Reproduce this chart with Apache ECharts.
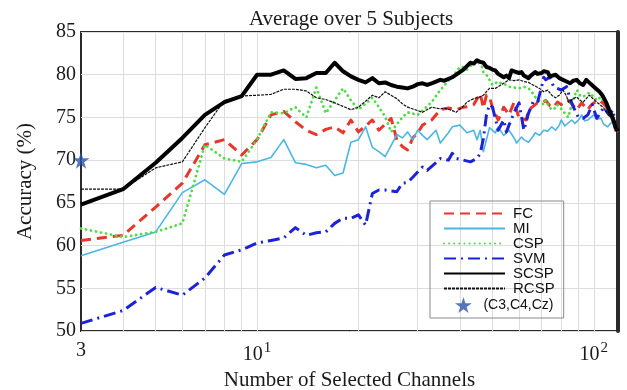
<!DOCTYPE html>
<html>
<head>
<meta charset="utf-8">
<script src="https://cdn.jsdelivr.net/npm/echarts@6/dist/echarts.min.js"></script>
<style>
  html, body { margin: 0; padding: 0; background: #fff; }
  #chart { width: 627px; height: 390px; }
</style>
</head>
<body>
<div id="chart"></div>
<script>
// Classification accuracy (%) against number of selected channels, averaged over 5 subjects
const fc = [[3,60.6],[4,61.2],[5,64.5],[6,67.3],[7,71.8],[8,72.4],[9,70.6],[10,72.4],[11,75.3],[12,75.7],[13,74.5],[14,73.5],[15,73.0],[16,73.6],[17,73.9],[18,73.2],[19,74.7],[20,73.3],[21,74.0],[22,74.7],[23,73.5],[24,74.2],[25,74.9],[26,72.4],[27,71.6],[28,71.2],[29,72.6],[30,73.2],[31,74.1],[33,74.7],[35,75.9],[37,76.1],[39,75.9],[41,76.2],[43,76.3],[44,76.5],[46,77.8],[47,76.1],[48,77.6],[49,77.4],[50,76.2],[52,74.7],[53,75.4],[54,76.2],[56,75.3],[58,76.8],[60,74.9],[62,74.8],[63,74.7],[64,75.9],[66,76.3],[68,76.7],[70,76.6],[72,77.0],[74,76.4],[76,76.2],[78,76.8],[80,76.5],[81,76.7],[84,77.0],[86,76.6],[89,75.9],[92,76.7],[94,76.3],[96,75.9],[98,76.4],[100,76.7],[102,76.8],[104,77.0],[107,76.6],[109,76.2],[111,75.6],[113,75.0],[116,73.5],[118,73.4]];

const mi = [[3,58.8],[4,60.4],[5,61.6],[6,66.2],[7,67.7],[8,66.0],[9,69.6],[10,69.8],[11,70.3],[12,72.4],[13,69.7],[14,69.5],[15,69.1],[16,69.4],[17,68.2],[18,68.5],[19,72.1],[20,72.4],[21,73.9],[22,71.5],[23,71.0],[24,70.4],[25,71.7],[26,73.0],[27,72.6],[28,73.3],[29,72.4],[30,73.5],[31,72.9],[32,72.4],[34,73.5],[35,72.0],[37,73.2],[38,73.9],[40,74.1],[42,73.2],[44,73.5],[45,72.4],[46,73.5],[47,71.0],[49,73.8],[51,73.2],[52,73.9],[54,72.9],[56,73.5],[58,72.6],[59,72.0],[61,72.7],[62,72.4],[64,72.1],[66,72.8],[67,73.2],[69,72.9],[71,73.5],[73,73.4],[75,73.9],[77,73.5],[79,74.1],[80,74.7],[82,74.0],[83,73.9],[86,74.7],[88,74.3],[91,74.9],[92,75.3],[94,74.6],[96,74.7],[98,75.0],[100,75.3],[102,74.8],[105,74.9],[107,74.2],[110,73.9],[112,74.3],[114,74.5],[116,73.6],[118,73.3]];

const csp = [[3,62.0],[4,61.0],[5,61.6],[6,62.6],[7,71.8],[8,70.2],[9,69.8],[10,72.4],[11,75.6],[12,75.5],[13,76.2],[14,75.0],[15,78.5],[16,75.5],[17,77.0],[18,78.4],[19,77.0],[20,75.9],[21,76.6],[22,77.3],[23,76.2],[24,75.1],[25,73.3],[26,74.2],[27,75.0],[28,75.6],[30,75.3],[31,75.8],[33,76.8],[35,78.2],[37,79.3],[38,79.7],[40,80.9],[41,80.9],[42,80.6],[44,81.4],[45,81.2],[46,81.7],[47,80.3],[48,80.0],[50,78.8],[52,79.2],[53,79.0],[55,78.8],[56,78.6],[58,78.5],[60,78.4],[62,78.6],[64,78.4],[66,77.8],[67,77.4],[69,76.9],[71,76.5],[72,77.0],[74,76.1],[76,75.9],[78,76.5],[80,76.0],[82,75.5],[84,75.0],[86,76.6],[89,78.2],[91,77.6],[93,77.4],[95,77.7],[97,77.9],[100,77.4],[102,77.0],[105,77.4],[108,76.8],[110,76.5],[112,75.8],[114,75.0],[116,73.8],[118,73.5]];

const svm = [[3,50.9],[4,52.4],[5,55.1],[6,54.2],[7,56.2],[8,58.9],[9,59.5],[10,60.3],[11,60.6],[12,60.9],[13,62.1],[14,61.2],[15,61.5],[16,61.6],[17,62.6],[18,63.2],[19,63.2],[20,63.6],[21,62.4],[22,66.1],[23,66.5],[24,66.5],[26,66.3],[27,67.3],[28,67.4],[29,68.0],[31,69.2],[32,68.8],[34,69.7],[35,70.2],[37,70.0],[38,70.8],[39,70.2],[41,70.0],[43,69.8],[45,70.2],[46,70.8],[47,72.5],[48,75.3],[49,76.5],[50,76.2],[51,74.9],[52,73.5],[54,74.7],[55,73.3],[56,74.1],[58,75.6],[60,76.7],[62,73.5],[64,75.5],[66,76.8],[68,76.7],[70,78.6],[71,79.7],[72,79.4],[74,79.7],[76,78.6],[78,78.4],[80,78.2],[83,78.6],[85,77.2],[87,76.2],[90,75.0],[93,74.9],[96,75.3],[99,76.5],[102,74.9],[105,75.6],[107,76.2],[111,75.3],[114,75.9],[116,73.9],[118,73.5]];

const scsp = [[3,64.8],[4,66.6],[5,69.7],[6,72.6],[7,75.3],[8,76.8],[9,77.5],[10,80.0],[11,80.0],[12,80.5],[13,79.5],[14,79.6],[15,80.2],[16,80.2],[17,81.4],[18,80.4],[19,79.8],[20,79.4],[21,79.1],[22,79.6],[23,79.0],[24,79.1],[25,78.8],[26,78.6],[27,78.5],[28,78.4],[29,78.6],[30,78.9],[31,79.0],[32,78.8],[33,79.0],[34,79.2],[35,79.4],[36,79.3],[38,79.7],[40,80.3],[41,80.6],[42,81.0],[43,81.4],[44,81.3],[45,81.7],[46,81.5],[47,81.4],[48,80.9],[49,80.8],[50,80.6],[51,80.5],[52,80.1],[54,79.7],[55,79.9],[56,79.6],[57,80.5],[58,80.4],[60,80.2],[61,80.3],[62,79.9],[64,79.6],[65,79.9],[67,80.3],[68,80.1],[70,80.2],[71,80.4],[73,80.3],[74,79.8],[75,79.7],[77,80.0],[79,79.6],[81,79.4],[83,79.2],[85,79.0],[87,79.3],[89,79.4],[91,79.0],[93,78.8],[95,79.4],[96,79.4],[98,78.9],[100,78.6],[102,78.3],[104,78.0],[106,77.6],[107,77.4],[109,76.7],[111,75.9],[113,75.2],[114,74.9],[116,73.8],[118,73.4]];

const rcsp = [[3,66.6],[4,66.6],[5,69.1],[6,69.8],[7,73.8],[8,77.0],[9,77.5],[10,77.6],[11,77.7],[12,78.3],[13,78.3],[14,78.1],[15,77.3],[16,77.1],[17,76.7],[18,76.3],[19,75.9],[20,76.2],[21,76.9],[22,77.6],[23,77.3],[24,78.0],[25,77.6],[26,77.2],[27,76.6],[28,76.2],[30,75.8],[31,75.6],[33,76.2],[35,76.0],[36,76.1],[38,75.8],[39,75.6],[41,76.3],[42,76.8],[44,77.2],[46,77.4],[47,77.6],[49,78.4],[51,78.4],[53,78.8],[54,79.0],[56,79.4],[58,79.3],[60,79.4],[62,79.2],[64,79.1],[66,78.8],[69,78.4],[71,78.0],[73,78.2],[75,77.6],[77,77.3],[79,77.6],[81,78.2],[83,77.5],[84,76.8],[87,77.2],[89,77.4],[91,77.0],[93,76.8],[95,77.2],[97,77.6],[100,77.1],[102,76.8],[105,76.4],[107,76.1],[110,75.4],[113,74.9],[116,73.7],[118,73.4]];

// Three standard electrodes (C3, C4, Cz)
const standard = [[3,70]];

// Axis ranges and tick positions
const xMin = 3, xMax = 118;
const xLabelTicks = [3, 10, 100];
const xGridTicks = [4, 5, 6, 7, 8, 9, 10, 20, 30, 40, 50, 60, 70, 80, 90, 100];
const yMin = 50, yMax = 85, yStep = 5;

const serif = '"Liberation Serif", "Times New Roman", serif';
const sans = '"Liberation Sans", Arial, sans-serif';
const starPath = 'path://M50,0 L61,35 L98,35 L68,57 L79,91 L50,70 L21,91 L32,57 L2,35 L39,35 Z';

function lineSeries(name, data, color, width, type, extra) {
  return Object.assign({
    name: name,
    type: 'line',
    data: data,
    symbol: 'none',
    showSymbol: false,
    z: 3,
    lineStyle: { color: color, width: width, type: type, cap: 'butt', join: 'round' },
    itemStyle: { color: color },
    emphasis: { disabled: true },
    animation: false
  }, extra || {});
}

const chart = echarts.init(document.getElementById('chart'), null, { renderer: 'canvas' });

chart.setOption({
  animation: false,
  backgroundColor: '#ffffff',
  title: {
    text: 'Average over 5 Subjects',
    left: 244,
    top: 4,
    textStyle: { fontFamily: serif, fontSize: 21, fontWeight: 'normal', color: '#1a1a1a' }
  },
  grid: {
    left: 81, right: 9, top: 32, bottom: 59,
    outerBoundsMode: 'none',
    containLabel: false,
    show: true,
    borderColor: '#2a2a2a',
    borderWidth: 2,
    backgroundColor: 'transparent'
  },
  legend: [
    {
      data: ['FC', 'MI', 'CSP', 'SVM', 'SCSP', 'RCSP'],
      orient: 'vertical',
      left: 430,
      top: 201,
      padding: [5, 9, 22, 13],
      itemGap: 0,
      itemWidth: 61,
      itemHeight: 14,
      selectedMode: false,
      borderColor: '#8a8a8a',
      borderWidth: 1,
      backgroundColor: 'transparent',
      itemStyle: { opacity: 0 },
      textStyle: { fontFamily: sans, fontSize: 15, color: '#111', lineHeight: 14, height: 14, padding: [1, 0, 0, 3] }
    },
    {
      data: [{ name: '(C3,C4,Cz)' }],
      orient: 'vertical',
      left: 455,
      top: 294,
      padding: 0,
      itemWidth: 20,
      itemHeight: 16,
      selectedMode: false,
      textStyle: { fontFamily: sans, fontSize: 14, color: '#111', lineHeight: 16, padding: [6, 0, 0, 5] }
    }
  ],
  xAxis: {
    type: 'log',
    logBase: 10,
    min: xMin,
    max: xMax,
    name: 'Number of Selected Channels',
    nameLocation: 'middle',
    nameGap: 30,
    nameTextStyle: { fontFamily: serif, fontSize: 21, color: '#1a1a1a' },
    axisLine: { show: false },
    axisTick: { show: false },
    splitLine: { show: false },
    axisLabel: {
      customValues: xLabelTicks,
      margin: 10,
      color: '#1a1a1a',
      fontFamily: serif,
      fontSize: 20,
      formatter: function (v) {
        if (v < 10) return String(Math.round(v));
        const e = Math.round(Math.log10(v));
        return '{b|10}{s|' + e + '}';
      },
      rich: {
        b: { fontFamily: serif, fontSize: 20, color: '#1a1a1a', verticalAlign: 'bottom', lineHeight: 24 },
        s: { fontFamily: serif, fontSize: 15, color: '#1a1a1a', verticalAlign: 'top', lineHeight: 24, padding: [0, 0, 8, 1] }
      }
    }
  },
  yAxis: [
    {
      type: 'value',
      min: yMin,
      max: yMax,
      interval: yStep,
      name: 'Accuracy (%)',
      nameLocation: 'middle',
      nameGap: 45,
      nameTextStyle: { fontFamily: serif, fontSize: 21, color: '#1a1a1a' },
      axisLine: { show: false },
      axisTick: { show: false },
      axisLabel: { margin: 5, color: '#1a1a1a', fontFamily: serif, fontSize: 20 },
      splitLine: { show: true, lineStyle: { color: '#dddddd', width: 1 } }
    },
    {
      type: 'value',
      position: 'right',
      min: yMin,
      max: yMax,
      interval: yStep,
      axisLine: { show: true, lineStyle: { color: '#2a2a2a', width: 4 } },
      axisTick: { show: false },
      axisLabel: { show: false },
      splitLine: { show: false }
    }
  ],
  series: [
    lineSeries('FC', fc, '#e8362c', 3, [10, 6], {
      markLine: {
        silent: true,
        symbol: 'none',
        z: 1,
        animation: false,
        label: { show: false },
        lineStyle: { color: '#dddddd', width: 1, type: 'solid' },
        emphasis: { disabled: true },
        data: xGridTicks.map(function (v) { return { xAxis: v }; })
      }
    }),
    lineSeries('MI', mi, '#4cb6e2', 1.6, 'solid'),
    lineSeries('CSP', csp, '#4fdc45', 2.8, [0.1, 5], { lineStyle: { color: '#4fdc45', width: 2.8, type: [0.1, 5], cap: 'round', join: 'round' } }),
    lineSeries('SVM', svm, '#1c22d8', 3, [12, 5, 2, 5]),
    lineSeries('SCSP', scsp, '#000000', 4, 'solid'),
    lineSeries('RCSP', rcsp, '#111111', 1.2, [3, 1]),
    {
      name: '(C3,C4,Cz)',
      type: 'scatter',
      data: standard,
      symbol: starPath,
      symbolSize: 17,
      clip: false,
      z: 5,
      itemStyle: { color: '#2d52a6' },
      emphasis: { disabled: true },
      animation: false
    }
  ]
});
</script>
</body>
</html>
